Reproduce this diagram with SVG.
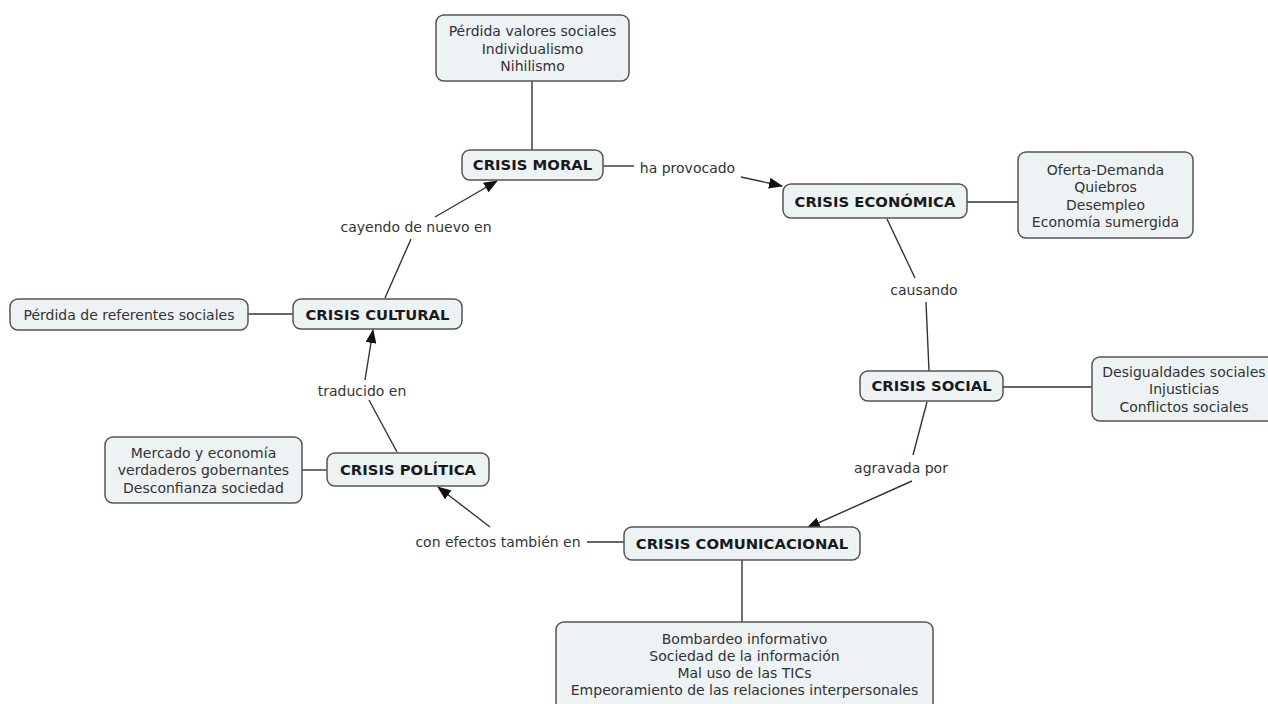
<svg xmlns="http://www.w3.org/2000/svg" width="1268" height="704" viewBox="0 0 1268 704">
  <defs>
    <marker id="arrow" viewBox="0 0 14 11" refX="13" refY="5.5" markerWidth="14" markerHeight="11" markerUnits="userSpaceOnUse" orient="auto">
      <path d="M0,0 L14,5.5 L0,11 z" fill="#111"/>
    </marker>
    <style>
      .box { fill: #edf2f4; stroke: #555; stroke-width: 1.5; }
      .concept { font-family: "DejaVu Sans", Verdana, sans-serif; font-size: 14.8px; font-weight: bold; fill: #1a1a1a; text-anchor: middle; }
      .info { font-family: "DejaVu Sans", Verdana, sans-serif; font-size: 14px; fill: #333; text-anchor: middle; }
      .link { font-family: "DejaVu Sans", Verdana, sans-serif; font-size: 14px; fill: #333; text-anchor: middle; }
      .line { stroke: #333; stroke-width: 1.4; fill: none; }
      .arr { stroke: #333; stroke-width: 1.4; fill: none; marker-end: url(#arrow); }
    </style>
  </defs>
  <rect width="1268" height="704" fill="#fff"/>

  <!-- connectors and linking phrases -->
  <g id="connectors">
    <!-- plain attachments to detail boxes -->
    <line class="line" x1="532" y1="81" x2="532" y2="150"/>
    <line class="line" x1="967" y1="202" x2="1018" y2="202"/>
    <line class="line" x1="1003" y1="387" x2="1092" y2="387"/>
    <line class="line" x1="742" y1="560" x2="742" y2="622"/>
    <line class="line" x1="302" y1="470" x2="327" y2="470"/>
    <line class="line" x1="248" y1="314" x2="293" y2="314"/>

    <!-- MORAL -> ECONÓMICA -->
    <line class="line" x1="603" y1="166" x2="634" y2="166"/>
    <text class="link" x="687.5" y="173">ha provocado</text>
    <line class="arr" x1="741" y1="177" x2="782" y2="186"/>

    <!-- ECONÓMICA -> SOCIAL -->
    <line class="line" x1="887" y1="219" x2="915" y2="278"/>
    <text class="link" x="924" y="295">causando</text>
    <line class="line" x1="926" y1="302" x2="929" y2="371"/>

    <!-- SOCIAL -> COMUNICACIONAL -->
    <line class="line" x1="927" y1="402" x2="913" y2="455"/>
    <text class="link" x="901" y="473">agravada por</text>
    <line class="arr" x1="912" y1="481" x2="807" y2="528"/>

    <!-- COMUNICACIONAL -> POLÍTICA -->
    <line class="line" x1="624" y1="542" x2="587" y2="542"/>
    <text class="link" x="498" y="547">con efectos también en</text>
    <line class="arr" x1="490" y1="527" x2="438" y2="487"/>

    <!-- POLÍTICA -> CULTURAL -->
    <line class="line" x1="397" y1="452" x2="369" y2="400"/>
    <text class="link" x="362" y="396">traducido en</text>
    <line class="arr" x1="365" y1="380" x2="373" y2="330"/>

    <!-- CULTURAL -> MORAL -->
    <line class="line" x1="385" y1="298" x2="411" y2="239"/>
    <text class="link" x="416" y="232">cayendo de nuevo en</text>
    <line class="arr" x1="435" y1="217" x2="497" y2="181"/>
  </g>

  <!-- concept nodes -->
  <g id="crisis-moral">
    <rect class="box" x="462" y="150" width="141" height="30" rx="8"/>
    <text class="concept" x="532.5" y="170">CRISIS MORAL</text>
  </g>
  <g id="crisis-economica">
    <rect class="box" x="783" y="184" width="184" height="34" rx="8"/>
    <text class="concept" x="875" y="206.5">CRISIS ECONÓMICA</text>
  </g>
  <g id="crisis-social">
    <rect class="box" x="860" y="371" width="143" height="30" rx="8"/>
    <text class="concept" x="931.5" y="391">CRISIS SOCIAL</text>
  </g>
  <g id="crisis-comunicacional">
    <rect class="box" x="624" y="527" width="236" height="33" rx="8"/>
    <text class="concept" x="742" y="549">CRISIS COMUNICACIONAL</text>
  </g>
  <g id="crisis-politica">
    <rect class="box" x="327" y="453" width="162" height="33" rx="8"/>
    <text class="concept" x="408" y="475">CRISIS POLÍTICA</text>
  </g>
  <g id="crisis-cultural">
    <rect class="box" x="293" y="299" width="169" height="30" rx="8"/>
    <text class="concept" x="377.5" y="319.5">CRISIS CULTURAL</text>
  </g>

  <!-- detail nodes -->
  <g id="detalle-moral">
    <rect class="box" x="436" y="15" width="193" height="66" rx="8"/>
    <text class="info" x="532.5" y="36">Pérdida valores sociales</text>
    <text class="info" x="532.5" y="53.5">Individualismo</text>
    <text class="info" x="532.5" y="71">Nihilismo</text>
  </g>
  <g id="detalle-economica">
    <rect class="box" x="1018" y="152" width="175" height="86" rx="8"/>
    <text class="info" x="1105.5" y="174.5">Oferta-Demanda</text>
    <text class="info" x="1105.5" y="192">Quiebros</text>
    <text class="info" x="1105.5" y="209.5">Desempleo</text>
    <text class="info" x="1105.5" y="227">Economía sumergida</text>
  </g>
  <g id="detalle-social">
    <rect class="box" x="1092" y="357" width="184" height="64" rx="8"/>
    <text class="info" x="1184" y="376.5">Desigualdades sociales</text>
    <text class="info" x="1184" y="394">Injusticias</text>
    <text class="info" x="1184" y="411.5">Conflictos sociales</text>
  </g>
  <g id="detalle-comunicacional">
    <rect class="box" x="556" y="622" width="377" height="90" rx="8"/>
    <text class="info" x="744.5" y="644">Bombardeo informativo</text>
    <text class="info" x="744.5" y="661">Sociedad de la información</text>
    <text class="info" x="744.5" y="678">Mal uso de las TICs</text>
    <text class="info" x="744.5" y="695">Empeoramiento de las relaciones interpersonales</text>
  </g>
  <g id="detalle-politica">
    <rect class="box" x="105" y="437" width="197" height="66" rx="8"/>
    <text class="info" x="203.5" y="457.5">Mercado y economía</text>
    <text class="info" x="203.5" y="475">verdaderos gobernantes</text>
    <text class="info" x="203.5" y="492.5">Desconfianza sociedad</text>
  </g>
  <g id="detalle-cultural">
    <rect class="box" x="10" y="299" width="238" height="31" rx="8"/>
    <text class="info" x="129" y="319.5">Pérdida de referentes sociales</text>
  </g>
</svg>
